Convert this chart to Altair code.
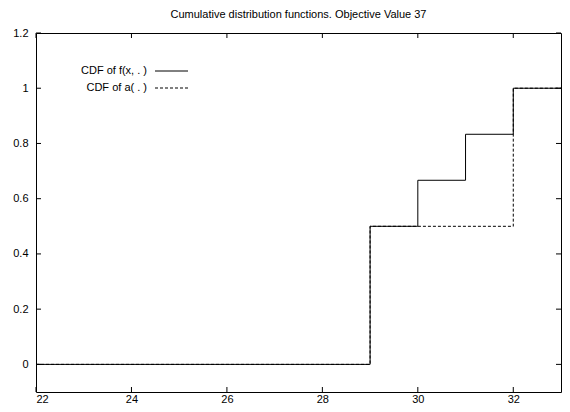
import altair as alt
import pandas as pd

# Data
f_x = [22, 29, 30, 31, 32, 33]
f_y = [0, 0.5, 0.6667, 0.8333, 1.0, 1.0]
a_x = [22, 29, 32, 33]
a_y = [0, 0.5, 1.0, 1.0]
x_ticks = [22, 24, 26, 28, 30, 32]
y_ticks = [0, 0.2, 0.4, 0.6, 0.8, 1.0, 1.2]
legend_labels = ["CDF of f(x, . )", "CDF of a( . )"]
title_text = "Cumulative distribution functions. Objective Value 37"

W, H = 525, 359
FONT = "Liberation Sans"

df_f = pd.DataFrame({"x": f_x, "y": f_y})
df_a = pd.DataFrame({"x": a_x, "y": a_y})
df_xt = pd.DataFrame({"x": x_ticks})
df_yt = pd.DataFrame({"y": y_ticks})

xs = alt.Scale(domain=[22, 33], nice=False, zero=False)
ys = alt.Scale(domain=[-0.1, 1.2], nice=False, zero=False)

xaxis = alt.Axis(values=x_ticks, ticks=False, domain=False, grid=False, labelFont=FONT,
                 labelFontSize=11, labelColor="black", labelPadding=1, title=None)
yaxis = alt.Axis(values=y_ticks, ticks=False, domain=False, grid=False, labelFont=FONT,
                 labelFontSize=11, labelColor="black", labelPadding=8, title=None,
                 labelExpr="datum.value == 0 ? '0' : format(datum.value, '.1~f')")

line_f = alt.Chart(df_f).mark_line(interpolate="step-after", color="black", strokeWidth=1).encode(
    x=alt.X("x:Q", scale=xs, axis=xaxis),
    y=alt.Y("y:Q", scale=ys, axis=yaxis),
)
line_a = alt.Chart(df_a).mark_line(interpolate="step-after", color="black", strokeWidth=1,
                                   strokeDash=[3, 2]).encode(
    x=alt.X("x:Q", scale=xs),
    y=alt.Y("y:Q", scale=ys),
)

TL = 5
xt_bot = alt.Chart(df_xt).mark_rule(color="black", strokeWidth=1).encode(
    x=alt.X("x:Q", scale=xs), y=alt.value(H), y2=alt.value(H - TL))
xt_top = alt.Chart(df_xt).mark_rule(color="black", strokeWidth=1).encode(
    x=alt.X("x:Q", scale=xs), y=alt.value(0), y2=alt.value(TL))
yt_left = alt.Chart(df_yt).mark_rule(color="black", strokeWidth=1).encode(
    y=alt.Y("y:Q", scale=ys), x=alt.value(0), x2=alt.value(TL))
yt_right = alt.Chart(df_yt).mark_rule(color="black", strokeWidth=1).encode(
    y=alt.Y("y:Q", scale=ys), x=alt.value(W), x2=alt.value(W - TL))

# Legend
df_leg = pd.DataFrame({"label": legend_labels})
leg_text1 = alt.Chart(df_leg.iloc[[0]]).mark_text(align="right", baseline="middle", font=FONT,
                                                   fontSize=11, color="black").encode(
    text="label:N", x=alt.value(111), y=alt.value(38))
leg_text2 = alt.Chart(df_leg.iloc[[1]]).mark_text(align="right", baseline="middle", font=FONT,
                                                   fontSize=11, color="black").encode(
    text="label:N", x=alt.value(111), y=alt.value(55))
leg_l1 = alt.Chart(df_leg.iloc[[0]]).mark_rule(color="black", strokeWidth=1).encode(
    x=alt.value(119), x2=alt.value(152), y=alt.value(38))
leg_l2 = alt.Chart(df_leg.iloc[[1]]).mark_rule(color="black", strokeWidth=1, strokeDash=[3, 2]).encode(
    x=alt.value(119), x2=alt.value(152), y=alt.value(55))

chart = alt.layer(
    line_f, line_a, xt_bot, xt_top, yt_left, yt_right,
    leg_text1, leg_text2, leg_l1, leg_l2,
).properties(
    width=W, height=H,
    title=alt.TitleParams(title_text, font=FONT, fontSize=11, fontWeight="normal",
                          color="black", anchor="middle", offset=7),
    autosize=alt.AutoSizeParams(type="none"),
    padding={"left": 28, "top": 25, "right": 1, "bottom": 12},
).configure_view(stroke="black", strokeWidth=1)

chart.save("out.html", embed_options={"renderer": "svg", "actions": False})
